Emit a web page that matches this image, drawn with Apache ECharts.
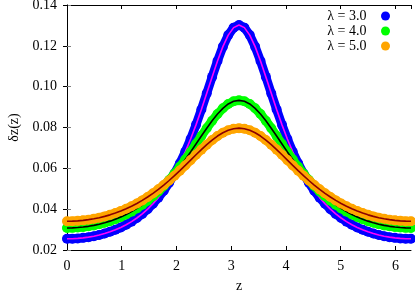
<!DOCTYPE html>
<html>
<head>
<meta charset="utf-8">
<script src="https://cdn.jsdelivr.net/npm/echarts@6/dist/echarts.min.js"></script>
<style>html,body{margin:0;padding:0;background:#fff}#c{width:415px;height:293px}</style>
</head>
<body>
<div id="c"></div>
<script>
// z grid (0 .. 2π)
var zValues = [0, 0.0982, 0.1963, 0.2945, 0.3927, 0.4909, 0.5890, 0.6872, 0.7854, 0.8836, 0.9817, 1.0799, 1.1781, 1.2763, 1.3744, 1.4726, 1.5708,
  1.6690, 1.7671, 1.8653, 1.9635, 2.0617, 2.1598, 2.2580, 2.3562, 2.4544, 2.5525, 2.6507, 2.7489, 2.8471, 2.9452, 3.0434, 3.1416,
  3.2398, 3.3379, 3.4361, 3.5343, 3.6325, 3.7306, 3.8288, 3.9270, 4.0252, 4.1233, 4.2215, 4.3197, 4.4179, 4.5160, 4.6142, 4.7124,
  4.8106, 4.9087, 5.0069, 5.1051, 5.2033, 5.3014, 5.3996, 5.4978, 5.5960, 5.6941, 5.7923, 5.8905, 5.9887, 6.0868, 6.1850, 6.2832];

var seriesNames = ['λ = 3.0', 'λ = 4.0', 'λ = 5.0'];

var lambda3 = [0.02549,0.02554,0.02569,0.02594,0.02630,0.02676,0.02735,0.02805,0.02890,0.02989,0.03104,0.03237,0.03391,0.03567,0.03769,0.04000,0.04264,
  0.04565,0.04907,0.05298,0.05741,0.06243,0.06807,0.07436,0.08129,0.08880,0.09672,0.10478,0.11259,0.11961,0.12525,0.12891,0.13018,
  0.12891,0.12525,0.11961,0.11259,0.10478,0.09672,0.08880,0.08129,0.07436,0.06807,0.06243,0.05741,0.05298,0.04907,0.04565,0.04264,
  0.04000,0.03769,0.03567,0.03391,0.03237,0.03104,0.02989,0.02890,0.02805,0.02735,0.02676,0.02630,0.02594,0.02569,0.02554,0.02549];

var lambda4 = [0.03079,0.03084,0.03099,0.03124,0.03159,0.03206,0.03263,0.03332,0.03414,0.03508,0.03617,0.03741,0.03881,0.04039,0.04215,0.04412,0.04630,
  0.04870,0.05134,0.05423,0.05735,0.06072,0.06429,0.06804,0.07192,0.07583,0.07967,0.08331,0.08661,0.08939,0.09152,0.09285,0.09330,
  0.09285,0.09152,0.08939,0.08661,0.08331,0.07967,0.07583,0.07192,0.06804,0.06429,0.06072,0.05735,0.05423,0.05134,0.04870,0.04630,
  0.04412,0.04215,0.04039,0.03881,0.03741,0.03617,0.03508,0.03414,0.03332,0.03263,0.03206,0.03159,0.03124,0.03099,0.03084,0.03079];

var lambda5 = [0.03410,0.03414,0.03428,0.03452,0.03486,0.03529,0.03582,0.03646,0.03721,0.03808,0.03906,0.04017,0.04141,0.04278,0.04429,0.04595,0.04776,
  0.04971,0.05181,0.05404,0.05640,0.05888,0.06143,0.06403,0.06663,0.06918,0.07161,0.07385,0.07582,0.07745,0.07867,0.07942,0.07968,
  0.07942,0.07867,0.07745,0.07582,0.07385,0.07161,0.06918,0.06663,0.06403,0.06143,0.05888,0.05640,0.05404,0.05181,0.04971,0.04776,
  0.04595,0.04429,0.04278,0.04141,0.04017,0.03906,0.03808,0.03721,0.03646,0.03582,0.03529,0.03486,0.03452,0.03428,0.03414,0.03410];

var xTicks = [0, 1, 2, 3, 4, 5, 6];
var yTicks = [0.02, 0.04, 0.06, 0.08, 0.10, 0.12, 0.14];

var pointColors = ['#0000ff', '#00ff00', '#ffa500'];
var lineColors = ['#ff00ff', '#000000', '#8b0000'];
var allValues = [lambda3, lambda4, lambda5];

function pairs(ys) { return zValues.map(function (z, i) { return [z, ys[i]]; }); }

var FONT = 'Liberation Serif';
var series = [];
allValues.forEach(function (ys, k) {
  series.push({
    name: seriesNames[k], type: 'line', data: pairs(ys), clip: false,
    symbol: 'circle', symbolSize: 10, showAllSymbol: true,
    itemStyle: { color: pointColors[k] },
    lineStyle: { color: pointColors[k], width: 9, cap: 'round', join: 'round' },
    z: 2 + k * 2, silent: true
  });
  series.push({
    name: seriesNames[k] + ' fit', type: 'line', data: pairs(ys), clip: false,
    symbol: 'none', smooth: false,
    lineStyle: { color: lineColors[k], width: 1.6 },
    z: 3 + k * 2, silent: true
  });
});

var chart = echarts.init(document.getElementById('c'), null, { renderer: 'canvas' });
chart.setOption({
  animation: false,
  backgroundColor: '#ffffff',
  textStyle: { fontFamily: FONT },
  grid: { left: 67, right: 4, top: 5, bottom: 43, containLabel: false, outerBoundsMode: 'none' },
  legend: {
    data: seriesNames.map(function (n, k) { return { name: n, icon: 'circle', itemStyle: { color: pointColors[k] } }; }),
    orient: 'vertical', right: 25, top: 9, padding: 0, align: 'right',
    itemWidth: 28, itemHeight: 9, itemGap: 1,
    textStyle: { fontFamily: FONT, fontSize: 14, color: '#000' }
  },
  xAxis: [{
    type: 'value', min: xTicks[0], max: 6.2832, interval: 1, position: 'bottom',
    name: 'z', nameLocation: 'middle', nameGap: 29,
    nameTextStyle: { fontFamily: FONT, fontSize: 14, color: '#000' },
    axisLine: { lineStyle: { color: '#000', width: 1 } },
    axisTick: { inside: true, length: 4, lineStyle: { color: '#000' } },
    axisLabel: { fontFamily: FONT, fontSize: 14, color: '#000', margin: 9, showMaxLabel: false,
      formatter: function (v) { return xTicks.indexOf(v) >= 0 ? String(v) : ''; } },
    splitLine: { show: false }
  }, {
    type: 'value', min: xTicks[0], max: 6.2832, interval: 1, position: 'top',
    axisLine: { lineStyle: { color: '#000', width: 1 } },
    axisTick: { inside: true, length: 4, lineStyle: { color: '#000' } },
    axisLabel: { show: false }, splitLine: { show: false }
  }],
  yAxis: [{
    type: 'value', min: yTicks[0], max: yTicks[yTicks.length - 1], interval: 0.02, position: 'left',
    name: 'δz(z)', nameLocation: 'middle', nameGap: 46, nameRotate: 90,
    nameTextStyle: { fontFamily: FONT, fontSize: 14, color: '#000' },
    axisLine: { lineStyle: { color: '#808080', width: 1 } },
    axisTick: { inside: true, length: 4, lineStyle: { color: '#808080' } },
    axisLabel: { fontFamily: FONT, fontSize: 14, color: '#000', margin: 10,
      formatter: function (v) { return v.toFixed(2); } },
    splitLine: { show: false }
  }, {
    type: 'value', min: yTicks[0], max: yTicks[yTicks.length - 1], interval: 0.02, position: 'right',
    axisLine: { lineStyle: { color: '#000', width: 1 } },
    axisTick: { inside: true, length: 4, lineStyle: { color: '#000' } },
    axisLabel: { show: false }, splitLine: { show: false }
  }],
  series: series
});
</script>
</body>
</html>
